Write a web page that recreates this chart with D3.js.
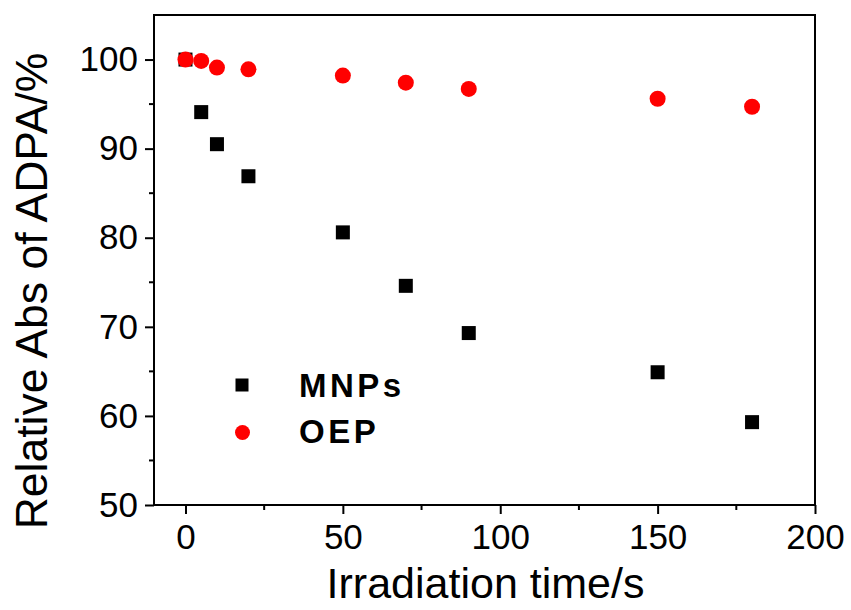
<!DOCTYPE html>
<meta charset="utf-8">
<style>
  body { margin: 0; background: white; }
  svg { font-family: "Liberation Sans", Arial, sans-serif; }
  .axis path, .axis line { stroke: black; stroke-width: 2; }
  .axis text { font-size: 35px; fill: black; }
</style>
<body></body>
<script src="https://cdn.jsdelivr.net/npm/d3@7"></script>
<script>
  const times = [0, 5, 10, 20, 50, 70, 90, 150, 180];
  const mnps = [100, 94.1, 90.5, 86.9, 80.6, 74.6, 69.3, 64.9, 59.3];
  const oep = [100, 99.85, 99.1, 98.9, 98.2, 97.4, 96.7, 95.6, 94.7];
  const xTicks = [0, 50, 100, 150, 200];
  const yTicks = [50, 60, 70, 80, 90, 100];

  const w = 851, h = 610;
  const margin = {l: 154, r: 36, t: 15, b: 105};
  const l = margin.l, r = w - margin.r, t = margin.t, b = h - margin.b;

  const svg = d3.select('body').append('svg')
    .attr('width', w).attr('height', h);

  const x = d3.scaleLinear().domain([-10, 200]).range([l, r]);
  const y = d3.scaleLinear().domain([50, 105]).range([b, t]);

  // frame
  svg.append('rect')
    .attr('x', l).attr('y', t)
    .attr('width', r - l).attr('height', b - t)
    .attr('fill', 'none').attr('stroke', 'black').attr('stroke-width', 2);

  // minor ticks
  const minor = svg.append('g').attr('stroke', 'black').attr('stroke-width', 2);
  minor.selectAll('.mx')
    .data([25, 75, 125, 175])
    .join('line')
    .attr('x1', d => x(d)).attr('x2', d => x(d))
    .attr('y1', b).attr('y2', b + 5);
  minor.selectAll('.my')
    .data([55, 65, 75, 85, 95])
    .join('line')
    .attr('y1', d => y(d)).attr('y2', d => y(d))
    .attr('x1', l).attr('x2', l - 5);

  // bottom axis
  svg.append('g')
    .attr('class', 'axis')
    .attr('transform', `translate(0, ${b})`)
    .call(d3.axisBottom(x).tickValues(xTicks).tickSize(9).tickPadding(10).tickSizeOuter(0))
    .call(g => g.select('.domain').remove());

  // left axis
  svg.append('g')
    .attr('class', 'axis')
    .attr('transform', `translate(${l}, 0)`)
    .call(d3.axisLeft(y).tickValues(yTicks).tickSize(9).tickPadding(7).tickSizeOuter(0))
    .call(g => g.select('.domain').remove());

  // axis titles
  svg.append('text')
    .attr('x', (x(-10) + x(200)) / 2 + 1).attr('y', 598)
    .attr('text-anchor', 'middle')
    .attr('font-size', 43)
    .text('Irradiation time/s');

  svg.append('text')
    .attr('transform', `translate(47, ${291}) rotate(-90)`)
    .attr('text-anchor', 'middle')
    .attr('font-size', 44.5)
    .text('Relative Abs of ADPA/%');

  // series
  const sq = 14;
  svg.append('g').selectAll('rect')
    .data(times.map((d, i) => ({t: d, v: mnps[i]})))
    .join('rect')
    .attr('x', d => x(d.t) - sq / 2).attr('y', d => y(d.v) - sq / 2)
    .attr('width', sq).attr('height', sq)
    .attr('fill', 'black');

  svg.append('g').selectAll('circle')
    .data(times.map((d, i) => ({t: d, v: oep[i]})))
    .join('circle')
    .attr('cx', d => x(d.t)).attr('cy', d => y(d.v))
    .attr('r', 8)
    .attr('fill', '#ff0000');

  // legend
  const legend = svg.append('g');
  legend.append('rect')
    .attr('x', 242 - 6.5).attr('y', 385 - 6.5)
    .attr('width', 13).attr('height', 13).attr('fill', 'black');
  legend.append('circle')
    .attr('cx', 242.5).attr('cy', 432.5).attr('r', 7.5).attr('fill', '#ff0000');
  legend.selectAll('text')
    .data([{s: 'MNPs', y: 397}, {s: 'OEP', y: 443}])
    .join('text')
    .attr('x', 299).attr('y', d => d.y)
    .attr('font-size', 33).attr('font-weight', 'bold')
    .attr('letter-spacing', 3.5)
    .text(d => d.s);
</script>
